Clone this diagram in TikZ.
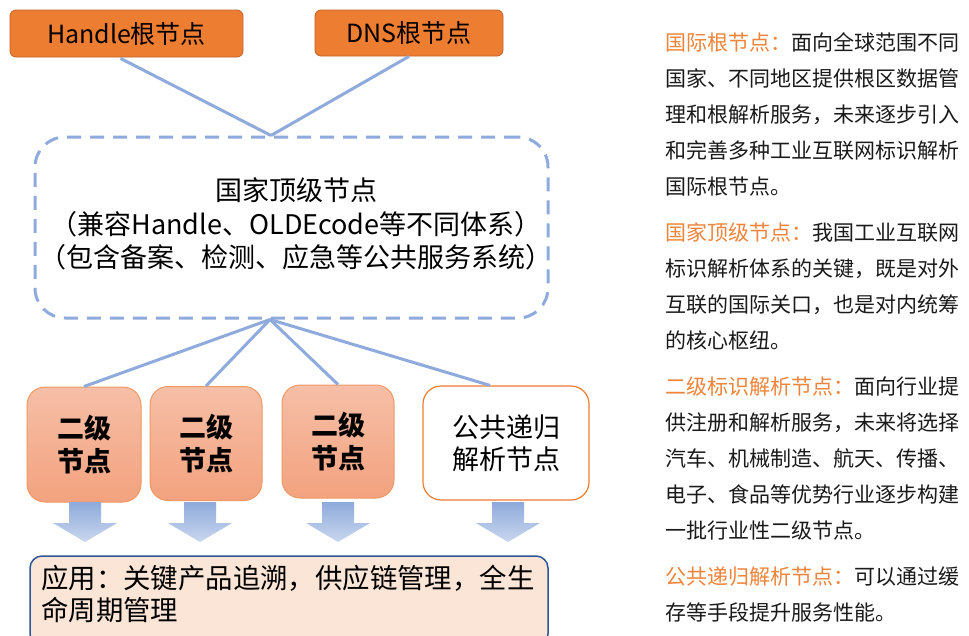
\documentclass[tikz,border=0pt]{standalone}
\usepackage{fontspec}
\setmainfont{Noto Sans CJK SC}
\usetikzlibrary{calc,shadings}
\definecolor{borange}{HTML}{ED7D31}
\definecolor{bordbrown}{HTML}{C0612A}
\definecolor{lblue}{HTML}{8FAADC}
\definecolor{atop}{HTML}{8EAADB}
\definecolor{abot}{HTML}{C9D7EF}
\definecolor{stop}{HTML}{F6BFA7}
\definecolor{sbot}{HTML}{F3A27E}
\definecolor{sbord}{HTML}{EE9966}
\definecolor{appfill}{HTML}{FBE5D6}
\definecolor{appbord}{HTML}{2F5597}
\definecolor{txtor}{HTML}{F0843A}
\definecolor{txtgr}{HTML}{1A1A1A}
\tikzset{
  rootbox/.style={draw=bordbrown, line width=0.8pt, fill=borange, rounded corners=6pt, inner sep=0pt, font=\fontsize{25}{28}\selectfont},
  conn/.style={draw=lblue, line width=3pt},
  natbox/.style={draw=lblue, line width=3pt, dash pattern=on 14pt off 9pt, rounded corners=30pt, inner sep=0pt},
  secbox/.style={draw=sbord, line width=1pt, top color=stop, bottom color=sbot, rounded corners=18pt, inner sep=0pt, align=center, font=\fontsize{27}{33}\selectfont\bfseries},
  pubbox/.style={draw=borange, line width=1.2pt, fill=white, rounded corners=18pt, inner sep=0pt, align=center, font=\fontsize{27}{32}\selectfont},
  appbox/.style={draw=appbord, line width=1.5pt, fill=appfill, rounded corners=12pt, inner sep=0pt},
  fatarrow/.style={top color=atop, bottom color=abot, draw=none},
}
\newcommand{\fatarr}[1]{%
  \path[fatarrow] (#1-16,502) -- (#1+16,502) -- (#1+16,523) -- (#1+32,523) -- (#1,542) -- (#1-32,523) -- (#1-16,523) -- cycle;}
\begin{document}
\begin{tikzpicture}[x=1pt,y=-1pt]
\clip (0,0) rectangle (969,635);
\fill[white] (0,0) rectangle (969,635);

% root nodes
\node[rootbox, minimum width=233pt, minimum height=47pt] (handle) at (126.5,33.5) {Handle根节点};
\node[rootbox, minimum width=188pt, minimum height=46pt] (dns) at (409,33) {DNS根节点};

% national top level node
\node[natbox, minimum width=513pt, minimum height=181pt] (nat) at (291.5,227.5) {};
\node[align=center, font=\fontsize{27}{33.5}\selectfont, inner sep=0pt] (nattxt) at (296,224) {国家顶级节点\\（兼容Handle、OLDEcode等不同体系）\\（包含备案、检测、应急等公共服务系统）};
\coordinate (ntop) at ($(nat.north)+(-20.5,0)$);
\coordinate (nbot) at ($(nat.south)+(-21.5,0)$);

\draw[conn] ($(handle.south)+(-6,1)$) -- (ntop);
\draw[conn] (dns.south) -- (ntop);

% second level nodes
\node[secbox, minimum width=114pt, minimum height=115pt] (s1) at (84,444.5) {二级\\节点};
\node[secbox, minimum width=112pt, minimum height=114pt] (s2) at (206,443.5) {二级\\节点};
\node[secbox, minimum width=112pt, minimum height=113pt] (s3) at (338,441.5) {二级\\节点};
\node[pubbox, minimum width=166pt, minimum height=114pt] (pub) at (506,443) {公共递归\\解析节点};

\draw[conn] (nbot) -- (s1.north);
\draw[conn] (nbot) -- (s2.north);
\draw[conn] (nbot) -- (s3.north);
\draw[conn] (nbot) -- ($(pub.north)+(-16,0)$);

% fat arrows
\fatarr{85}
\fatarr{200}
\fatarr{338}
\fatarr{508}

% application box
\node[appbox, minimum width=518pt, minimum height=90pt] (app) at (289,601) {};
\node[anchor=north west, align=left, inner sep=0pt, font=\fontsize{27.4}{32}\selectfont] (apptxt) at (41,565) {应用：关键产品追溯，供应链管理，全生\\命周期管理};

% right description text
\node[anchor=north west, align=left, inner sep=0pt, text=txtgr, font=\fontsize{21}{36}\selectfont, text width=300pt] (desc) at (665,32) {%
\textcolor{txtor}{国际根节点：}面向全球范围不同\\
国家、不同地区提供根区数据管\\
理和根解析服务，未来逐步引入\\
和完善多种工业互联网标识解析\\
国际根节点。\\[10pt]
\textcolor{txtor}{国家顶级节点：}我国工业互联网\\
标识解析体系的关键，既是对外\\
互联的国际关口，也是对内统筹\\
的核心枢纽。\\[10pt]
\textcolor{txtor}{二级标识解析节点：}面向行业提\\
供注册和解析服务，未来将选择\\
汽车、机械制造、航天、传播、\\
电子、食品等优势行业逐步构建\\
一批行业性二级节点。\\[10pt]
\textcolor{txtor}{公共递归解析节点：}可以通过缓\\
存等手段提升服务性能。};
\end{tikzpicture}
\end{document}
